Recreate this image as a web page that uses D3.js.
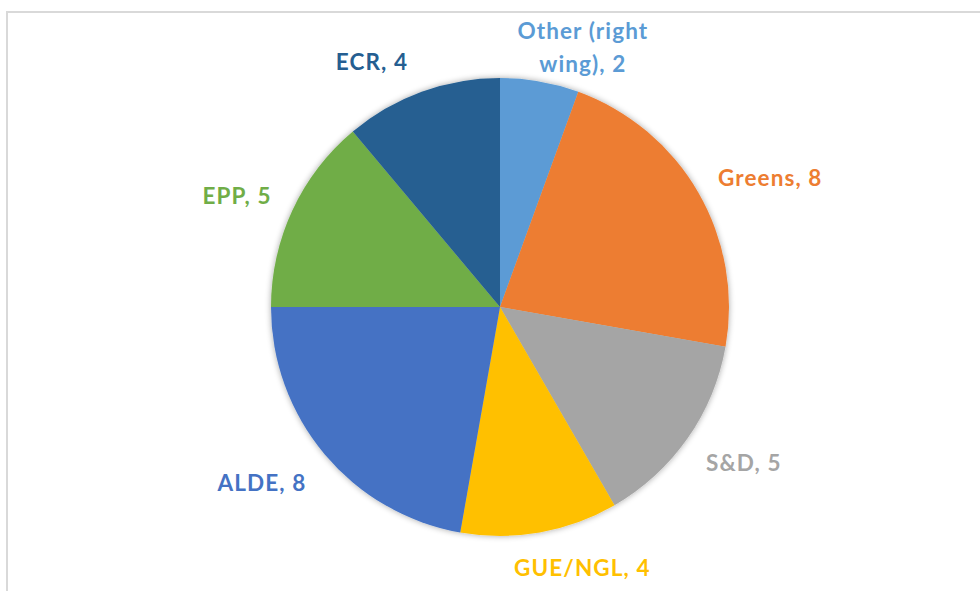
<!DOCTYPE html>
<html>
<head>
<meta charset="utf-8">
<script src="https://cdn.jsdelivr.net/npm/d3@7"></script>
<style>
  html, body { margin: 0; padding: 0; background: #fff; }
  svg { display: block; }
</style>
</head>
<body>
<svg id="chart" width="980" height="591"></svg>
<script>
// groups, clockwise from 12 o'clock
const groups = ["Other (right wing)", "Greens", "S&D", "GUE/NGL", "ALDE", "EPP", "ECR"];
const seats = [2, 8, 5, 4, 8, 5, 4];
const colours = ["#5b9bd5", "#ed7d31", "#a5a5a5", "#ffc000", "#4472c4", "#70ad47", "#255e91"];

// label nudges (Excel "best fit" placement is not a plain formula)
const nudge = {
    "Other (right wing)": [30, 5],
    "Greens": [18, -3],
    "S&D": [17, 11],
    "GUE/NGL": [29, 12],
    "ALDE": [-21, 13],
    "EPP": [-15, -5],
    "ECR": [-34, -8]
};

const width = 980, height = 591;
const cx = 500, cy = 307, radius = 229, gap = 10;

const svg = d3.select("#chart");

// chart area frame
svg.append("rect")
    .attr("x", 7).attr("y", 12)
    .attr("width", width).attr("height", height)
    .attr("fill", "#fff")
    .attr("stroke", "#d9d9d9")
    .attr("stroke-width", 2);

const defs = svg.append("defs");
const shadow = defs.append("filter")
    .attr("id", "soft")
    .attr("x", "-10%").attr("y", "-10%")
    .attr("width", "120%").attr("height", "120%");
shadow.append("feGaussianBlur").attr("in", "SourceAlpha").attr("stdDeviation", 3).attr("result", "b");
shadow.append("feComponentTransfer").append("feFuncA").attr("type", "linear").attr("slope", 0.35);
const merge = shadow.append("feMerge");
merge.append("feMergeNode");
merge.append("feMergeNode").attr("in", "SourceGraphic");

const data = groups.map((g, i) => ({ name: g, value: seats[i], colour: colours[i] }));

const pie = d3.pie().sort(null).value(d => d.value);
const arc = d3.arc().innerRadius(0).outerRadius(radius);
const arcs = pie(data);

const g = svg.append("g").attr("transform", `translate(${cx}, ${cy})`);

g.append("g")
    .attr("filter", "url(#soft)")
    .selectAll("path")
    .data(arcs)
    .enter()
    .append("path")
    .attr("d", arc)
    .attr("fill", d => d.data.colour);

const labels = g.append("g")
    .attr("font-family", "Lato, 'Open Sans', sans-serif")
    .attr("font-weight", "bold")
    .attr("font-size", 22.5)
    .attr("letter-spacing", 1.1)
    .attr("text-anchor", "middle");

arcs.forEach(d => {
    const name = d.data.name;
    const lines = name === "Other (right wing)"
        ? ["Other (right", `wing), ${d.data.value}`]
        : [`${name}, ${d.data.value}`];
    const t = labels.append("text")
        .attr("fill", d.data.colour);
    lines.forEach((l, i) => {
        t.append("tspan").attr("x", 0).attr("dy", i === 0 ? 0 : 33).text(l);
    });
    const box = t.node().getBBox();
    const w = box.width, h = box.height;
    const a = (d.startAngle + d.endAngle) / 2;
    const pr = radius + gap;
    const px = Math.sin(a) * pr, py = -Math.cos(a) * pr;
    const mx = px + Math.sin(a) * w / 2 + nudge[name][0];
    const my = py - Math.cos(a) * h / 2 + nudge[name][1];
    // shift text so its bbox centre sits at (mx, my)
    const ox = mx - (box.x + w / 2);
    const oy = my - (box.y + h / 2);
    t.attr("transform", `translate(${ox}, ${oy})`);
});
</script>
</body>
</html>
